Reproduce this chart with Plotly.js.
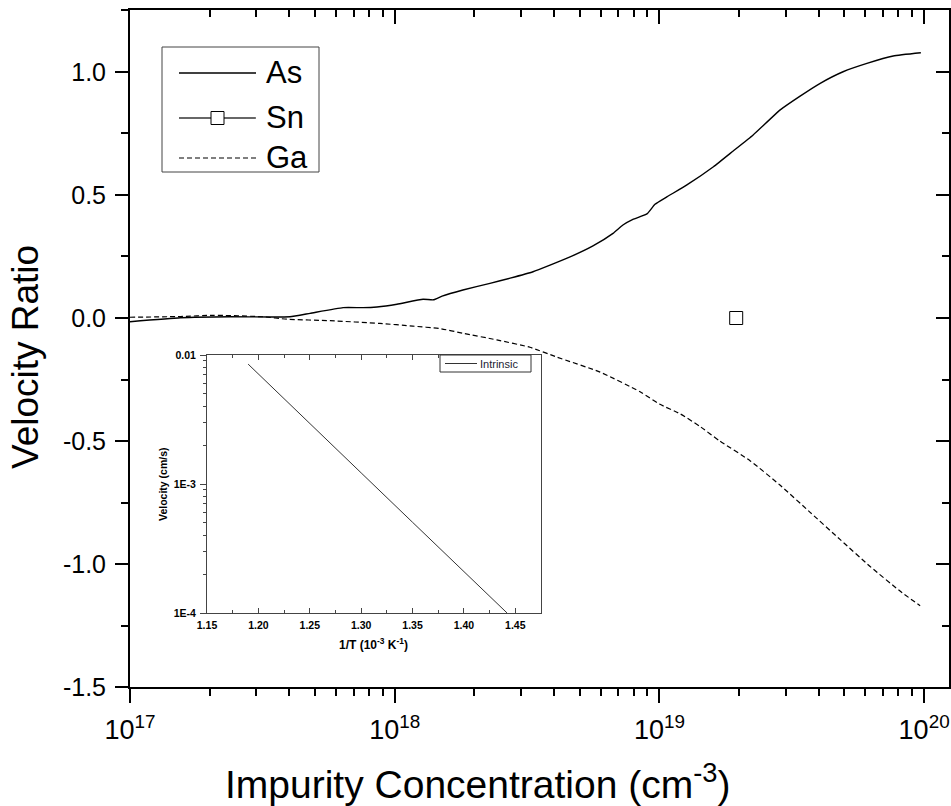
<!DOCTYPE html>
<html>
<head>
<meta charset="utf-8">
<script src="https://cdn.plot.ly/plotly-3.0.1.min.js"></script>
<style>html,body{margin:0;padding:0;background:#fff;}#chart{width:951px;height:806px;}</style>
</head>
<body>
<div id="chart"></div>
<script>
// ---- Data ----
const asConc = [1.00e17,1.55e17,2.39e17,3.38e17,4.02e17,4.79e17,6.38e17,7.59e17,8.57e17,1.02e18,1.28e18,1.40e18,1.51e18,1.81e18,2.29e18,2.73e18,3.33e18,4.48e18,5.61e18,6.68e18,7.28e18,7.94e18,8.97e18,9.62e18,1.07e19,1.27e19,1.60e19,1.90e19,2.26e19,2.86e19,3.40e19,4.05e19,4.94e19,6.08e19,7.64e19,9.72e19];
const asRatio = [-0.015,0.001,0.005,0.004,0.005,0.019,0.042,0.042,0.045,0.056,0.076,0.074,0.089,0.114,0.141,0.162,0.188,0.243,0.293,0.344,0.378,0.401,0.423,0.462,0.493,0.541,0.615,0.679,0.744,0.846,0.902,0.954,1.001,1.035,1.065,1.078];

const snConc = [1.95e19];
const snRatio = [0.0];

const gaConc = [1.00e17,1.55e17,2.06e17,3.18e17,3.92e17,5.70e17,8.79e17,1.17e18,1.48e18,1.81e18,2.43e18,3.24e18,4.10e18,5.97e18,8.45e18,1.00e19,1.20e19,1.42e19,1.69e19,2.20e19,2.86e19,3.71e19,4.81e19,6.25e19,8.11e19,9.66e19];
const gaRatio = [0.003,0.006,0.011,0.005,-0.005,-0.011,-0.022,-0.033,-0.043,-0.062,-0.089,-0.119,-0.159,-0.22,-0.30,-0.35,-0.39,-0.44,-0.50,-0.58,-0.68,-0.79,-0.90,-1.01,-1.11,-1.17];

// inset: intrinsic velocity vs 1/T
const invT = [1.19,1.25,1.30,1.35,1.40,1.442];
const intrinsicVel = [8.5e-3,2.92e-3,1.22e-3,5.05e-4,2.10e-4,1.0e-4];

// tick labels
const xTickVals = [1e17,1e18,1e19,1e20];
const xTickText = ['10<sup>17</sup>','10<sup>18</sup>','10<sup>19</sup>','10<sup>20</sup>'];
const yTickVals = [-1.5,-1.0,-0.5,0.0,0.5,1.0];
const yTickText = ['-1.5','-1.0','-0.5','0.0','0.5','1.0'];
const insetYTickVals = [1e-4,1e-3,1e-2];
const insetYTickText = ['1E-4','1E-3','0.01'];
const insetXTickVals = [1.15,1.20,1.25,1.30,1.35,1.40,1.45];
const insetXTickText = ['1.15','1.20','1.25','1.30','1.35','1.40','1.45'];
const legendNames = ['As','Sn','Ga'];

// ---- Layout helpers ----
const W = 951, H = 806;
const L = 130, R = 949, T = 10, B = 687;
const px = v => (v - L) / (R - L);
const py = v => (B - v) / (B - T);
const FONT = 'Arial, "Liberation Sans", sans-serif';

const xMinor = [];
for (let d = 17; d < 20; d++) for (let k = 2; k <= 9; k++) xMinor.push(k * Math.pow(10, d));
const insetYMinor = [];
for (let d = -4; d < -2; d++) for (let k = 2; k <= 9; k++) insetYMinor.push(k * Math.pow(10, d));

const traces = [
  {x: asConc, y: asRatio, type: 'scatter', mode: 'lines', name: legendNames[0],
   line: {color: '#000', width: 1.4, shape: 'spline', smoothing: 0.4}, xaxis: 'x', yaxis: 'y'},
  {x: snConc, y: snRatio, type: 'scatter', mode: 'markers', name: legendNames[1],
   marker: {symbol: 'square-open', size: 13, color: '#000', line: {width: 1, color: '#000'}}, xaxis: 'x', yaxis: 'y'},
  {x: gaConc, y: gaRatio, type: 'scatter', mode: 'lines', name: legendNames[2],
   line: {color: '#000', width: 1.2, dash: '5px,3px', shape: 'spline', smoothing: 0.5}, xaxis: 'x', yaxis: 'y'},
  {x: [], y: [], type: 'scatter', mode: 'lines', xaxis: 'x3', yaxis: 'y3', showlegend: false, hoverinfo: 'skip'},
  {x: invT, y: intrinsicVel, type: 'scatter', mode: 'lines', name: 'Intrinsic',
   line: {color: '#333', width: 1}, xaxis: 'x2', yaxis: 'y2'}
];

const xr = [17, 20.094];
const yr = [-1.5, 1.252];

const shapes = [];
const annotations = [];
// main legend
const lg = {x0: 162, x1: 319, y0: 47, y1: 172};
shapes.push({type: 'rect', xref: 'paper', yref: 'paper', x0: px(lg.x0), x1: px(lg.x1), y0: py(lg.y1), y1: py(lg.y0),
  line: {color: '#444', width: 1}, fillcolor: '#fff', layer: 'above'});
const rows = [73, 118, 158];
shapes.push({type: 'line', xref: 'paper', yref: 'paper', x0: px(179), x1: px(256), y0: py(rows[0]), y1: py(rows[0]), line: {color: '#000', width: 1.4}});
shapes.push({type: 'line', xref: 'paper', yref: 'paper', x0: px(179), x1: px(211), y0: py(rows[1]), y1: py(rows[1]), line: {color: '#000', width: 1.2}});
shapes.push({type: 'line', xref: 'paper', yref: 'paper', x0: px(224), x1: px(256), y0: py(rows[1]), y1: py(rows[1]), line: {color: '#000', width: 1.2}});
shapes.push({type: 'rect', xref: 'paper', yref: 'paper', x0: px(211), x1: px(224), y0: py(rows[1] + 6.5), y1: py(rows[1] - 6.5), line: {color: '#000', width: 1}});
shapes.push({type: 'line', xref: 'paper', yref: 'paper', x0: px(179), x1: px(256), y0: py(rows[2]), y1: py(rows[2]), line: {color: '#000', width: 1.2, dash: '5px,3px'}});
legendNames.forEach((n, i) => annotations.push({xref: 'paper', yref: 'paper', x: px(264), y: py(rows[i]), text: n, showarrow: false,
  xanchor: 'left', yanchor: 'middle', font: {family: FONT, size: 31, color: '#000'}}));

// inset legend
shapes.push({type: 'rect', xref: 'paper', yref: 'paper', x0: px(440), x1: px(531), y0: py(372), y1: py(355), line: {color: '#333', width: 1}, fillcolor: '#fff', layer: 'above'});
shapes.push({type: 'line', xref: 'paper', yref: 'paper', x0: px(445), x1: px(477), y0: py(363.5), y1: py(363.5), line: {color: '#333', width: 1}, layer: 'above'});
annotations.push({xref: 'paper', yref: 'paper', x: px(478), y: py(363.5), text: 'Intrinsic', showarrow: false, xanchor: 'left', yanchor: 'middle',
  font: {family: FONT, size: 11, color: '#223'}});

// axis titles
annotations.push({xref: 'paper', yref: 'paper', x: px(477), y: py(781), text: 'Impurity Concentration (cm<sup>-3</sup>)', showarrow: false,
  xanchor: 'center', yanchor: 'middle', font: {family: FONT, size: 39, color: '#000'}});
annotations.push({xref: 'paper', yref: 'paper', x: px(25), y: py(357), text: 'Velocity Ratio', showarrow: false, textangle: -90,
  xanchor: 'center', yanchor: 'middle', font: {family: FONT, size: 37, color: '#000'}});
annotations.push({xref: 'paper', yref: 'paper', x: px(163), y: py(484), text: 'Velocity (cm/s)', showarrow: false, textangle: -90,
  xanchor: 'center', yanchor: 'middle', font: {family: FONT, size: 10.5, color: '#000', weight: 'bold'}});
annotations.push({xref: 'paper', yref: 'paper', x: px(373), y: py(644), text: '1/T (10<sup>-3</sup> K<sup>-1</sup>)', showarrow: false,
  xanchor: 'center', yanchor: 'middle', font: {family: FONT, size: 12, color: '#000', weight: 'bold'}});

const tickFont = {family: FONT, size: 25, color: '#000'};
const xTickFont = {family: FONT, size: 27, color: '#000'};
const insetFont = {family: FONT, size: 10.5, color: '#000', weight: 'bold'};

const layout = {
  width: W, height: H,
  margin: {l: L, r: W - R, t: T, b: H - B, pad: 0},
  paper_bgcolor: '#fff', plot_bgcolor: 'rgba(0,0,0,0)',
  showlegend: false,
  xaxis: {type: 'log', range: xr, domain: [0, 1], anchor: 'y', showgrid: false, zeroline: false,
    showline: true, mirror: true, linecolor: '#000', linewidth: 2,
    ticks: 'outside', ticklen: 14, tickwidth: 2, tickcolor: '#000',
    tickmode: 'array', tickvals: xTickVals, ticktext: xTickText,
    tickfont: xTickFont, ticklabelstandoff: 4,
    minor: {tickmode: 'array', tickvals: xMinor, ticks: 'outside', ticklen: 7, tickwidth: 2, tickcolor: '#000', showgrid: false}},
  yaxis: {range: yr, domain: [0, 1], anchor: 'x', showgrid: false, zeroline: false,
    showline: true, mirror: true, linecolor: '#000', linewidth: 2,
    ticks: 'outside', ticklen: 13, tickwidth: 2, tickcolor: '#000',
    tickmode: 'array', tickvals: yTickVals, ticktext: yTickText, tickfont: tickFont, ticklabelstandoff: 4,
    minor: {dtick: 0.25, tick0: 0, ticks: 'outside', ticklen: 7, tickwidth: 2, tickcolor: '#000', showgrid: false}},
  xaxis3: {type: 'log', range: xr, overlaying: 'x', side: 'top', anchor: 'y3', showgrid: false, zeroline: false, showline: false,
    ticks: 'inside', ticklen: 14, tickwidth: 2, tickcolor: '#000', tickmode: 'array', tickvals: xTickVals, showticklabels: false,
    minor: {tickmode: 'array', tickvals: xMinor, ticks: 'inside', ticklen: 7, tickwidth: 2, tickcolor: '#000', showgrid: false}},
  yaxis3: {range: yr, overlaying: 'y', side: 'right', anchor: 'x3', showgrid: false, zeroline: false, showline: false,
    ticks: 'inside', ticklen: 13, tickwidth: 2, tickcolor: '#000', tickmode: 'array', tickvals: yTickVals, showticklabels: false,
    minor: {dtick: 0.25, tick0: 0, ticks: 'inside', ticklen: 7, tickwidth: 2, tickcolor: '#000', showgrid: false}},
  xaxis2: {range: [1.15, 1.475], domain: [px(207), px(541)], anchor: 'y2', showgrid: false, zeroline: false,
    showline: true, mirror: 'ticks', linecolor: '#444', linewidth: 1,
    ticks: 'inside', ticklen: 5, tickwidth: 1, tickcolor: '#444',
    tickmode: 'array', tickvals: insetXTickVals, ticktext: insetXTickText, tickfont: insetFont, ticklabelstandoff: 2,
    minor: {dtick: 0.025, tick0: 1.15, ticks: 'inside', ticklen: 3, tickwidth: 1, tickcolor: '#444', showgrid: false}},
  yaxis2: {type: 'log', range: [-4, -2], domain: [py(613), py(355)], anchor: 'x2', showgrid: false, zeroline: false,
    showline: true, mirror: true, linecolor: '#444', linewidth: 1,
    ticks: 'outside', ticklen: 6, tickwidth: 1, tickcolor: '#444',
    tickmode: 'array', tickvals: insetYTickVals, ticktext: insetYTickText, tickfont: insetFont, ticklabelstandoff: 2,
    minor: {tickmode: 'array', tickvals: insetYMinor, ticks: 'outside', ticklen: 3, tickwidth: 1, tickcolor: '#444', showgrid: false}},
  shapes: shapes,
  annotations: annotations
};

Plotly.newPlot('chart', traces, layout, {displayModeBar: false, staticPlot: true});
</script>
</body>
</html>
